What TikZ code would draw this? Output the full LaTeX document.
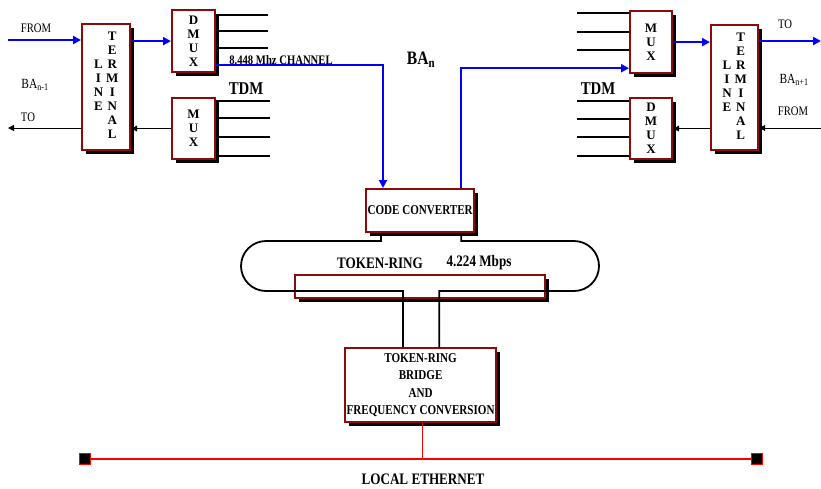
\documentclass[tikz,border=0pt]{standalone}
\usepackage{fontspec}
\setmainfont{Liberation Serif}
\newfontfamily\narrow[FakeStretch=0.82]{Liberation Serif}
\usepackage{xcolor}
\usetikzlibrary{positioning,arrows.meta,calc,shadows}

\definecolor{boxred}{RGB}{140,10,10}
\definecolor{netblue}{RGB}{0,0,255}
\definecolor{ethred}{RGB}{255,0,0}

\begin{document}
\begin{tikzpicture}[x=1pt,y=-1pt,
  blk/.style={draw=boxred, line width=2.2pt, fill=white, anchor=north west, inner sep=0pt,
    drop shadow={shadow xshift=4pt, shadow yshift=-4pt, fill=black, opacity=1}},
  letters/.style={blk, align=center, font=\fontsize{13}{14}\selectfont\bfseries},
  lbl/.style={font=\narrow\fontsize{13}{13}\selectfont, inner sep=0pt},
  big/.style={font=\narrow\fontsize{19}{19}\selectfont\bfseries, inner sep=0pt},
  tdm/.style={line width=1.1pt},
  bline/.style={draw=netblue, line width=2.2pt},
  barr/.style={bline, -{Triangle[length=8pt,width=8pt]}},
  karr/.style={line width=0.9pt, -{Triangle[length=6pt,width=6pt]}},
  ring/.style={line width=1.8pt},
  term/.style={draw=ethred, fill=black, line width=1.8pt, minimum size=11pt, inner sep=0pt}
]
\useasboundingbox (0,0) rectangle (821,488);

% line terminals
\node[letters, minimum width=48pt, minimum height=126pt] (ltl) at (81,23)
  {\begin{tabular}{@{}c@{\hspace{3pt}}c@{}} &T\\ &E\\ L&R\\ I&M\\ N&I\\ E&N\\ &A\\ &L\end{tabular}};
\node[letters, minimum width=47pt, minimum height=125pt] (ltr) at (710,24)
  {\begin{tabular}{@{}c@{\hspace{3pt}}c@{}} &T\\ &E\\ L&R\\ I&M\\ N&I\\ E&N\\ &A\\ &L\end{tabular}};

% multiplexers
\node[letters, minimum width=43pt, minimum height=62pt] (dmuxl) at (171,9) {D\\M\\U\\X};
\node[letters, minimum width=43pt, minimum height=61pt] (muxl) at (171,97) {M\\U\\X};
\node[letters, minimum width=42pt, minimum height=62pt] (muxr) at (629,10) {M\\U\\X};
\node[letters, minimum width=42pt, minimum height=61pt] (dmuxr) at (629,97) {D\\M\\U\\X};

% converter, ring, bridge
\node[blk, minimum width=108pt, minimum height=43pt, font=\narrow\fontsize{13.5}{13.5}\selectfont\bfseries] (cc) at (365,188) {CODE CONVERTER};
\node[blk, line width=1.5pt, minimum width=250pt, minimum height=23pt] (ringbox) at (294,274) {};
\node[blk, minimum width=151pt, minimum height=74pt, align=center,
  font=\narrow\fontsize{13.5}{17.5}\selectfont\bfseries] (bridge) at (344,347)
  {TOKEN-RING\\BRIDGE\\AND\\FREQUENCY CONVERSION};

% labels
\node[lbl] (froml) at (36,28) {FROM};
\node[lbl, font=\narrow\fontsize{14}{14}\selectfont] (bal) at (35,85) {BA\textsubscript{n-1}};
\node[lbl] (tol) at (28,117) {TO};
\node[lbl] (tor) at (785,24) {TO};
\node[lbl, font=\narrow\fontsize{14}{14}\selectfont] (bar) at (794,80) {BA\textsubscript{n+1}};
\node[lbl] (fromr) at (793,111) {FROM};
\node[big, font=\narrow\fontsize{18}{18}\selectfont\bfseries] (tdml) at (246,89) {TDM};
\node[big, font=\narrow\fontsize{18}{18}\selectfont\bfseries] (tdmr) at (598,89) {TDM};
\node[lbl, font=\narrow\fontsize{13}{13}\selectfont\bfseries] (chan) at (281,60) {8.448 Mhz CHANNEL};
\node[big] (ban) at (421,60) {BA\textsubscript{n}};
\node[lbl, font=\narrow\fontsize{16}{16}\selectfont\bfseries] (trlbl) at (380,263) {TOKEN-RING};
\node[lbl, font=\narrow\fontsize{16}{16}\selectfont\bfseries] (ratelbl) at (479,263) {4.224 Mbps};
\node[lbl, font=\narrow\fontsize{16}{16}\selectfont\bfseries] (ethlbl) at (423,479) {LOCAL ETHERNET};

% left terminal links
\coordinate (inl) at (8,40);
\coordinate (outl) at (8,128);
\draw[barr] (inl) -- (inl -| ltl.west);
\draw[barr] (ltl.east |- dmuxl.west) -- (dmuxl.west);
\draw[karr] (muxl.west) -- (muxl.west -| ltl.east);
\draw[karr] (outl -| ltl.west) -- (outl);

% right terminal links
\coordinate (outr) at (821,41);
\coordinate (inr) at (821,128);
\draw[barr] (muxr.east) -- (muxr.east -| ltr.west);
\draw[barr] (ltr.east |- outr) -- (outr);
\draw[karr] (inr) -- (inr -| ltr.east);
\draw[karr] (dmuxr.east -| ltr.west) -- (dmuxr.east);

% TDM channels
\foreach \y in {15,31,48} \draw[tdm] (dmuxl.east |- 0,\y) -- ++(52,0);
\foreach \y in {101,118,137,156} \draw[tdm] (muxl.east |- 0,\y) -- ++(54,0);
\foreach \y in {13,32,50} \draw[tdm] (muxr.west |- 0,\y) -- ++(-52,0);
\foreach \y in {101,119,137,156} \draw[tdm] (dmuxr.west |- 0,\y) -- ++(-52,0);

% 8.448 channel to and from the converter
\draw[barr] (dmuxl.east |- 0,65) -| ([xshift=18pt]cc.north west);
\draw[barr] ([xshift=-14pt]cc.north east) |- ($(muxr.south west)+(0,-6)$);

% token ring
\draw[ring] ([xshift=16pt]cc.south west) |- (266,241)
  arc[start angle=270, end angle=90, radius=25] -| ([xshift=59pt]bridge.north west);
\draw[ring] ([xshift=-14pt]cc.south east) |- (574,241)
  arc[start angle=-90, end angle=90, radius=25] -| ([xshift=-58pt]bridge.north east);

% ethernet
\node[term] (ethl) at (85,459) {};
\node[term] (ethr) at (757,459) {};
\draw[ethred, line width=2.2pt] (ethl) -- (ethr);
\draw[ethred, line width=1.6pt] ([xshift=2pt]bridge.south) -- ([xshift=2pt]bridge.south |- ethl);
\end{tikzpicture}
\end{document}
